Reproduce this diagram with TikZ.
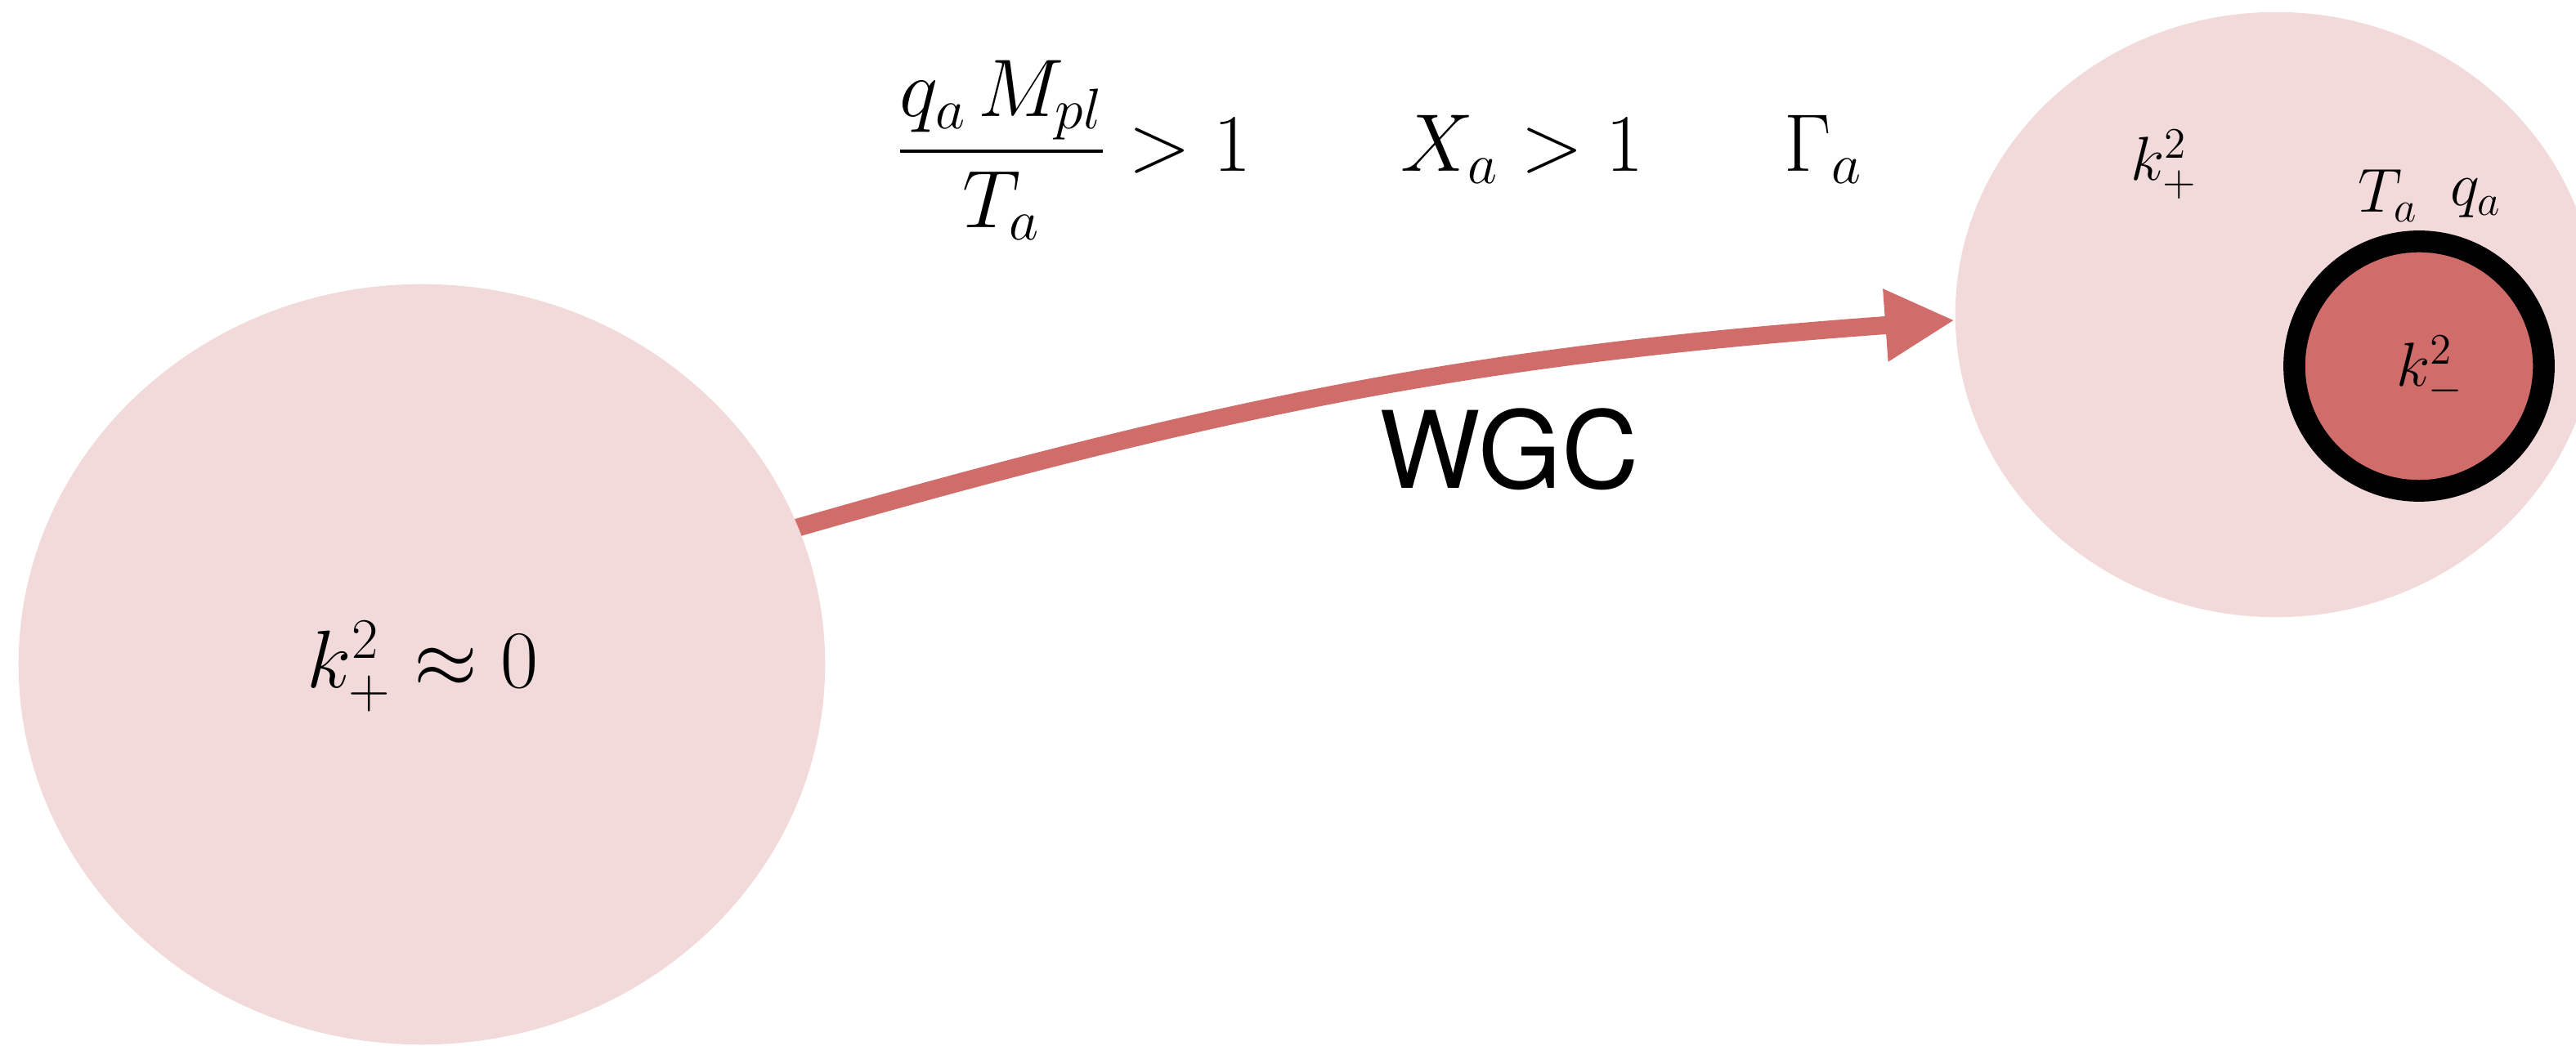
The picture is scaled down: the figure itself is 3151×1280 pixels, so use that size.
\RequirePackage{fix-cm}
\documentclass[tikz,border=0pt]{standalone}
\usepackage{amsmath}
\usepackage{fontspec}
\newfontfamily\wgcfont{TeX Gyre Heros}
\usetikzlibrary{shapes.geometric,arrows.meta}
\definecolor{blobpink}{RGB}{242,217,218}
\definecolor{wgcred}{RGB}{208,109,107}
\pgfdeclarelayer{bg}
\pgfsetlayers{bg,main}
\begin{document}
\begin{tikzpicture}[x=0.01cm,y=-0.01cm,
  blob/.style={ellipse,fill=blobpink,draw=none,inner sep=0pt},
  bigmath/.style={inner sep=0pt,font=\fontsize{28.45}{34}\selectfont},
  smallmath/.style={inner sep=0pt,font=\fontsize{21.6}{26}\selectfont},
  wgcarrow/.style={draw=wgcred,line width=0.22cm,-{Triangle[length=0.85cm,width=0.83cm]}},
  core/.style={circle,fill=wgcred,draw=black,line width=0.266cm,inner sep=0pt,minimum size=3.05cm}]
\useasboundingbox (0,0) rectangle (3151,1280);
\node[blob,minimum width=9.86cm,minimum height=9.30cm] (L) at (516,813) {};
\node[blob,minimum width=7.84cm,minimum height=7.40cm] (R) at (2784,385) {};
\node[core] (C) at (2959,448) {};
\node[bigmath,anchor=base west] (lk) at (375,842) {$k_+^2\approx 0$};
\node[bigmath,anchor=base west] (frac) at (1096,210) {$\dfrac{q_a\mkern2.5mu M_{pl}}{T_a}>1$};
\node[bigmath,anchor=base west] (xa) at (1713,210) {$X_a>1$};
\node[bigmath,anchor=base west] (ga) at (2182,210) {$\Gamma_a$};
\node[smallmath,anchor=base west] (rk) at (2606,221) {$k_+^2$};
\node[smallmath,anchor=base west] (ta) at (2884,260) {$T_a$};
\node[smallmath,anchor=base west] (qa) at (2997,252) {$q_a$};
\node[smallmath,anchor=base west] (mk) at (2931,473) {$k_-^2$};
\node[inner sep=0pt,font=\fontsize{37.2}{44}\selectfont\wgcfont] (wgc) at (1846,550) {WGC};
\begin{pgfonlayer}{bg}
\draw[wgcarrow,shorten <=-0.2cm] (L.20) to[bend left=6] (R.181);
\end{pgfonlayer}
\end{tikzpicture}
\end{document}
